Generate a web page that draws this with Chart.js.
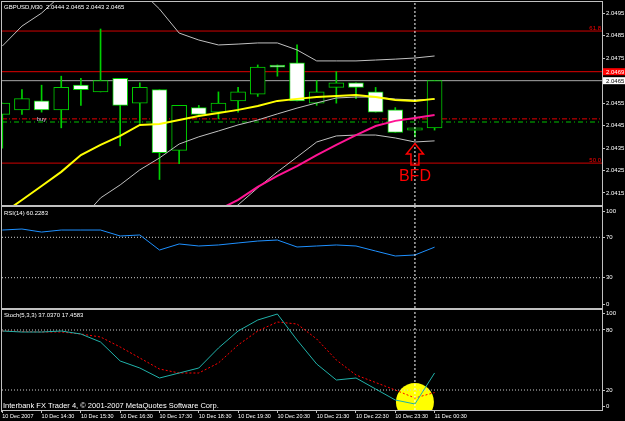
<!DOCTYPE html>
<html>
<head>
<meta charset="utf-8">
<script src="https://cdn.jsdelivr.net/npm/chart.js@4.4.1/dist/chart.umd.min.js"></script>
<style>
  html, body { margin: 0; padding: 0; background: #000; }
  #wrap { position: relative; width: 625px; height: 421px; overflow: hidden; background: #000; }
  canvas { position: absolute; left: 2px; }
  .rule { position: absolute; background: #c0c0c0; }
</style>
</head>
<body>
<div id="wrap">
  <canvas id="mainChart" width="623" height="203" style="top:2px"></canvas>
  <canvas id="rsiChart" width="623" height="101" style="top:207px"></canvas>
  <canvas id="stochChart" width="623" height="111" style="top:310px"></canvas>
  <div class="rule" style="left:1px;top:1px;width:602px;height:1px"></div>
  <div class="rule" style="left:1px;top:1px;width:1px;height:411px"></div>
  <div class="rule" style="left:1px;top:205px;width:602px;height:2px"></div>
  <div class="rule" style="left:1px;top:308px;width:602px;height:2px"></div>
</div>
<script>
// GBPUSD M30 bars, 10 Dec 2007 13:30 -> 11 Dec 00:30
const opens  = [2.0450, 2.0452, 2.0456, 2.0452, 2.0463, 2.0460, 2.0466, 2.0455, 2.0461, 2.0434, 2.0453, 2.0451,
                2.0456, 2.0459, 2.0472, 2.0473, 2.0455, 2.0462, 2.0464, 2.0460, 2.0452, 2.0443, 2.0444];
const highs  = [2.0455, 2.0461, 2.0463, 2.0467, 2.0466, 2.0488, 2.0466, 2.0464, 2.0461, 2.0454, 2.0454, 2.0460,
                2.0462, 2.0472, 2.0472, 2.0481, 2.0465, 2.0469, 2.0464, 2.0462, 2.0453, 2.0444, 2.0465];
const lows   = [2.0435, 2.0450, 2.0451, 2.0444, 2.0454, 2.0460, 2.0436, 2.0446, 2.0421, 2.0428, 2.0450, 2.0448,
                2.0451, 2.0458, 2.0467, 2.0456, 2.0454, 2.0455, 2.0457, 2.0451, 2.0442, 2.0440, 2.0443];
const closes = [2.0455, 2.0457, 2.0452, 2.0462, 2.0461, 2.0465, 2.0454, 2.0462, 2.0433, 2.0454, 2.0450, 2.0455,
                2.0460, 2.0471, 2.0471, 2.0456, 2.0460, 2.0464, 2.0462, 2.0451, 2.0442, 2.0444, 2.0465];

// indicators on the price panel
const maYellow = [2.04057, 2.04119, 2.04181, 2.04244, 2.04319, 2.04364, 2.04404, 2.04453, 2.04457, 2.04475, 2.04493, 2.04506,
                  2.04520, 2.04537, 2.04560, 2.04569, 2.04577, 2.04582, 2.04586, 2.04577, 2.04564, 2.04560, 2.04569];
const maPink   = [null, null, null, null, null, null, null, null, null, null, 2.04034, 2.04075,
                  2.04119, 2.04177, 2.04226, 2.04270, 2.04319, 2.04364, 2.04408, 2.04448, 2.04471, 2.04484, 2.04497];
const bbUpper  = [2.04804, 2.04893, 2.04951, 2.05031, 2.05054, 2.05062, 2.05054, 2.05054, 2.04969, 2.04862, 2.04831, 2.04809,
                  2.04813, 2.04818, 2.04818, 2.04787, 2.04738, 2.04738, 2.04738, 2.04742, 2.04746, 2.04751, 2.04760];
const bbMiddle = [null, null, null, null, 2.04030, 2.04128, 2.04186, 2.04253, 2.04306, 2.04368, 2.04400, 2.04426,
                  2.04453, 2.04475, 2.04502, 2.04528, 2.04551, 2.04573, 2.04577, 2.04577, 2.04568, 2.04564, 2.04568];
const bbLower  = [null, null, null, null, null, null, null, null, null, null, null, 2.04030,
                  2.04097, 2.04173, 2.04244, 2.04310, 2.04377, 2.04404, 2.04408, 2.04408, 2.04395, 2.04377, 2.04382];

// lower panels
const rsiValues   = [77.2, 78.2, 75.2, 77.2, 77.2, 77.2, 71.3, 72.3, 57.4, 63.4, 61.4, 62.4,
                     64.4, 66.3, 67.3, 60.4, 61.4, 62.4, 61.4, 56.4, 51.5, 52.5, 60.23];
const stochMain   = [79, 78, 78, 79, 76, 68, 49, 42, 32, 37, 42, 62,
                     79, 90, 96, 70, 46, 30, 32, 21, 10, 6, 37.04];
const stochSignal = [79, 78.5, 78, 78, 76, 73, 63, 52, 41, 37, 37, 47,
                     65, 79, 88, 86, 71, 50, 35, 27.5, 20, 12, 17.46];

// levels and objects
const fibPrices = [2.04871, 2.04283];
const fibLabels = ['61.8', '50.0'];
const resistancePrice = 2.0469;
const bidPrice = 2.0465;
const buyStopPrice = 2.0448;
const orderPrice = 2.04466;
const signalBar = 21;
const signalArrowPrice = 2.0437;
const stochMarkValue = 8;
const rsiLevels = [30, 70];
const stochLevels = [20, 80];

// axes
const priceTicks = [2.0415, 2.0425, 2.0435, 2.0445, 2.0455, 2.0465, 2.0475, 2.0485, 2.0495];
const rsiTicks = [0, 30, 70, 100];
const stochTicks = [0, 20, 80, 100];
const timeTickIdx = [0, 2, 4, 6, 8, 10, 12, 14, 16, 18, 20, 22];
const timeLabels = ['10 Dec 2007', '10 Dec 14:30', '10 Dec 15:30', '10 Dec 16:30', '10 Dec 17:30', '10 Dec 18:30',
                    '10 Dec 19:30', '10 Dec 20:30', '10 Dec 21:30', '10 Dec 22:30', '10 Dec 23:30', '11 Dec 00:30'];

const titleText = 'GBPUSD,M30  2.0444 2.0465 2.0443 2.0465';
const rsiTitle = 'RSI(14) 60.2283';
const stochTitle = 'Stoch(5,3,3) 37.0370 17.4583';
const footerText = 'Interbank FX Trader 4, \u00a9 2001-2007 MetaQuotes Software Corp.';

// visible window
const X_MIN = -0.015, X_MAX = 30.52;
const PRICE_MIN = 2.040965, PRICE_MAX = 2.050003;
const GRID = '#c0c0c0';
const FONT = '"Liberation Sans", Arial, sans-serif';

function hasFont(name) {
  const c = document.createElement('canvas').getContext('2d');
  const s = '10 Dec 14:30 abcdefgh';
  c.font = '20px monospace';
  const a = c.measureText(s).width;
  c.font = '20px "' + name + '", monospace';
  return c.measureText(s).width !== a;
}
const timeFont = hasFont('Liberation Sans Narrow')
  ? { family: '"Liberation Sans Narrow"', size: 6.5 }
  : { family: FONT, size: 5.5 };

Chart.defaults.font.family = FONT;

// linear scale that keeps its edge labels inside the panel, like MT4 does
class PanelScale extends Chart.LinearScale {
  getPixelForTick(index) {
    const px = super.getPixelForTick(index);
    const m = this.options.edgeInset || 0;
    return Math.min(Math.max(px, this.top + m), this.bottom - m);
  }
}
PanelScale.id = 'panelLinear';
PanelScale.defaults = Chart.LinearScale.defaults;
Chart.register(PanelScale);

const pts = arr => arr.map((v, i) => ({ x: i, y: v }));
const hline = v => [{ x: X_MIN, y: v }, { x: X_MAX, y: v }];
const vline = (i, lo, hi) => [{ x: i, y: lo }, { x: i, y: hi }];

function line(data, color, width, dash, order) {
  return {
    type: 'line', data, borderColor: color, borderWidth: width, borderDash: dash || [],
    pointRadius: 0, tension: 0, fill: false, order, clip: 0, spanGaps: false
  };
}

function xAxis(show) {
  return {
    type: 'linear', min: X_MIN, max: X_MAX, offset: false, display: show, bounds: 'data',
    afterBuildTicks: s => { s.ticks = timeTickIdx.map(v => ({ value: v })); },
    afterFit: s => { s.paddingLeft = 0; s.paddingRight = 0; if (show) s.height = 11; },
    grid: { drawOnChartArea: false, drawTicks: true, tickLength: 3, tickColor: GRID },
    border: { display: true, color: GRID },
    ticks: {
      autoSkip: false, maxRotation: 0, minRotation: 0, align: 'start', padding: 0,
      color: '#fff', font: timeFont, callback: (v, i) => timeLabels[i]
    }
  };
}

function yAxis(type, min, max, ticks, fmt, inset) {
  return {
    type, position: 'right', min, max, bounds: 'data', edgeInset: inset,
    afterBuildTicks: s => { s.ticks = ticks.map(v => ({ value: v })); },
    afterFit: s => { s.width = 23; s.paddingTop = 0; s.paddingBottom = 0; },
    grid: { drawOnChartArea: false, drawTicks: true, tickLength: 3, tickColor: GRID },
    border: { display: true, color: GRID },
    ticks: { autoSkip: false, color: '#fff', font: { size: 6 }, padding: 1, callback: fmt }
  };
}

const baseOptions = {
  responsive: false, animation: false, events: [],
  layout: { padding: 0, autoPadding: false },
  plugins: { legend: { display: false }, tooltip: { enabled: false } }
};

// ---------- price panel ----------
const bodies = opens.map((o, i) => ({ x: i, y: [o, closes[i]] }));
const wicks = lows.map((l, i) => ({ x: i, y: [l, highs[i]] }));

const mainOverlay = {
  id: 'mainOverlay',
  afterDraw(chart) {
    const { ctx, chartArea: a, scales: { x, y } } = chart;
    ctx.save();
    ctx.font = '6px ' + FONT;
    ctx.textBaseline = 'top';
    ctx.fillStyle = '#fff';
    ctx.fillText(titleText, 2, 2);
    ctx.fillStyle = '#c0c8d8';
    ctx.fillText('buy', x.getPixelForValue(1.75), y.getPixelForValue(buyStopPrice) - 3);

    // fibo level captions
    ctx.fillStyle = '#ff0000';
    ctx.textAlign = 'right';
    ctx.textBaseline = 'bottom';
    fibPrices.forEach((p, k) => ctx.fillText(fibLabels[k], a.right - 1, y.getPixelForValue(p)));

    // price tags on the axis
    ctx.textAlign = 'left';
    ctx.textBaseline = 'middle';
    [[resistancePrice, '#ff0000', '#ffffff'], [bidPrice, '#ffffff', '#000000']].forEach(([p, bg, fg]) => {
      const py = y.getPixelForValue(p);
      ctx.fillStyle = bg;
      ctx.fillRect(a.right + 1, py - 3.5, chart.width - a.right - 1, 7);
      ctx.fillStyle = fg;
      ctx.fillText(p.toFixed(4), a.right + 4, py + 0.5);
    });

    // up arrow + caption under the signal bar
    const cx = x.getPixelForValue(signalBar);
    const ty = y.getPixelForValue(signalArrowPrice);
    ctx.strokeStyle = '#ff0000';
    ctx.lineWidth = 1.5;
    ctx.beginPath();
    ctx.moveTo(cx, ty);
    ctx.lineTo(cx + 8.5, ty + 10.5);
    ctx.lineTo(cx + 4, ty + 10.5);
    ctx.lineTo(cx + 4, ty + 21.5);
    ctx.lineTo(cx - 4, ty + 21.5);
    ctx.lineTo(cx - 4, ty + 10.5);
    ctx.lineTo(cx - 8.5, ty + 10.5);
    ctx.closePath();
    ctx.stroke();
    ctx.fillStyle = '#ff0000';
    ctx.font = '16px ' + FONT;
    ctx.textAlign = 'center';
    ctx.textBaseline = 'alphabetic';
    ctx.fillText('BFD', cx, ty + 37);
    ctx.restore();
  }
};

new Chart(document.getElementById('mainChart'), {
  type: 'bar',
  data: {
    datasets: [
      line(vline(signalBar, PRICE_MIN, PRICE_MAX), '#ffffff', 1, [2, 2], 0),
      line(pts(maYellow), '#ffff00', 2, null, 1),
      line(pts(maPink), '#ff1493', 2, null, 1),
      line(pts(bbUpper), '#c0c0c0', 1, null, 2),
      line(pts(bbMiddle), '#c0c0c0', 1, null, 2),
      line(pts(bbLower), '#c0c0c0', 1, null, 2),
      {
        type: 'bar', data: bodies, grouped: false, barThickness: 15, order: 3,
        borderColor: '#00d000', borderWidth: 1, borderSkipped: false,
        backgroundColor: c => closes[c.dataIndex] >= opens[c.dataIndex] ? '#000000' : '#ffffff'
      },
      { type: 'bar', data: wicks, grouped: false, barThickness: 1, order: 4, backgroundColor: '#00d000', borderWidth: 0 },
      line(hline(fibPrices[0]), '#d00000', 1, null, 5),
      line(hline(fibPrices[1]), '#d00000', 1, null, 5),
      line(hline(resistancePrice), '#e00000', 1, null, 5),
      line(hline(bidPrice), '#a8a8a8', 1, null, 5),
      line(hline(buyStopPrice), '#e00000', 1, [5, 2, 1, 2], 5),
      line(hline(orderPrice), '#006000', 2, [5, 3, 1, 3], 5)
    ]
  },
  options: Object.assign({}, baseOptions, {
    scales: {
      x: xAxis(false),
      y: yAxis('linear', PRICE_MIN, PRICE_MAX, priceTicks, v => v.toFixed(4), 0)
    }
  }),
  plugins: [mainOverlay]
});

// ---------- RSI panel ----------
function titlePlugin(id, items) {
  return {
    id,
    afterDraw(chart) {
      const ctx = chart.ctx;
      ctx.save();
      ctx.textBaseline = 'top';
      ctx.fillStyle = '#fff';
      items.forEach(([text, px, py, size]) => {
        ctx.font = size + 'px ' + FONT;
        ctx.fillText(text, px, py);
      });
      ctx.restore();
    }
  };
}

new Chart(document.getElementById('rsiChart'), {
  type: 'line',
  data: {
    datasets: [
      line(vline(signalBar, 0, 100), '#ffffff', 1, [2, 2], 0),
      line(pts(rsiValues), '#1e90ff', 1, null, 1),
      ...rsiLevels.map(v => line(hline(v), '#d0d0d0', 1, [1, 2], 3))
    ]
  },
  options: Object.assign({}, baseOptions, {
    scales: {
      x: xAxis(false),
      y: yAxis('panelLinear', 0, 100, rsiTicks, v => String(v), 4)
    }
  }),
  plugins: [titlePlugin('rsiTitle', [[rsiTitle, 2, 3, 6]])]
});

// ---------- Stochastic panel ----------
new Chart(document.getElementById('stochChart'), {
  type: 'line',
  data: {
    datasets: [
      line(vline(signalBar, 0, 100), '#ffffff', 1, [2, 2], 0),
      line(pts(stochMain), '#20b2aa', 1, null, 1),
      line(pts(stochSignal), '#ff0000', 1, [2, 2], 1),
      ...stochLevels.map(v => line(hline(v), '#d0d0d0', 1, [1, 2], 3)),
      {
        type: 'line', data: [{ x: signalBar, y: stochMarkValue }], showLine: false, order: 10, clip: 0,
        pointRadius: 19, pointBackgroundColor: '#ffff00', pointBorderWidth: 0
      }
    ]
  },
  options: Object.assign({}, baseOptions, {
    scales: {
      x: xAxis(true),
      y: yAxis('panelLinear', 0, 100, stochTicks, v => String(v), 3.5)
    }
  }),
  plugins: [titlePlugin('stochTitle', [[stochTitle, 2, 2, 6], [footerText, 1, 92, 7.5]])]
});
</script>
</body>
</html>
